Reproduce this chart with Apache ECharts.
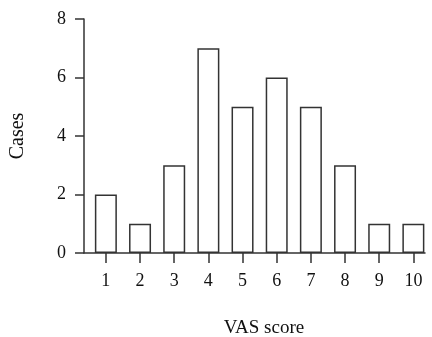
<!DOCTYPE html>
<html><head><meta charset="utf-8">
<script src="https://cdn.jsdelivr.net/npm/echarts@6/dist/echarts.min.js"></script>
<style>html,body{margin:0;padding:0;background:#fff}#c{width:432px;height:337px}</style>
</head><body><div id="c"></div>
<script>
const categories = [1, 2, 3, 4, 5, 6, 7, 8, 9, 10];
const cases = [2, 1, 3, 7, 5, 6, 5, 3, 1, 1];
const yTicks = [0, 2, 4, 6, 8];
const font = '"Liberation Serif", "DejaVu Serif", serif';
const ink = '#333';
const chart = echarts.init(document.getElementById('c'));
chart.setOption({
  animation: false,
  grid: { left: 84, right: 7, top: 19, bottom: 84, containLabel: false, outerBoundsMode: 'none' },
  xAxis: {
    type: 'value', min: 0.36, max: 10.34,
    name: 'VAS score', nameLocation: 'middle', nameGap: 66,
    nameTextStyle: { fontFamily: font, fontSize: 19, color: '#111', padding: [0, 0, 0, 19] },
    axisLine: { show: true, lineStyle: { color: ink, width: 1.5 } },
    axisTick: { show: true, length: 10, lineStyle: { color: ink, width: 1.5 }, customValues: categories },
    axisLabel: { fontFamily: font, fontSize: 18, color: '#111', margin: 19, customValues: categories },
    splitLine: { show: false }
  },
  yAxis: {
    type: 'value', min: 0, max: 8, interval: 2,
    name: 'Cases', nameLocation: 'middle', nameGap: 56,
    nameTextStyle: { fontFamily: font, fontSize: 20, color: '#111' },
    axisLine: { show: true, lineStyle: { color: ink, width: 1.5 } },
    axisTick: { show: true, length: 9, lineStyle: { color: ink, width: 1.5 } },
    axisLabel: { fontFamily: font, fontSize: 18, color: '#111', margin: 18, customValues: yTicks },
    splitLine: { show: false }
  },
  series: [{
    type: 'bar', barWidth: 22,
    data: categories.map((c, i) => [c, cases[i]]),
    itemStyle: { color: '#fff', borderColor: ink, borderWidth: 1.5 }
  }]
});
</script></body></html>
